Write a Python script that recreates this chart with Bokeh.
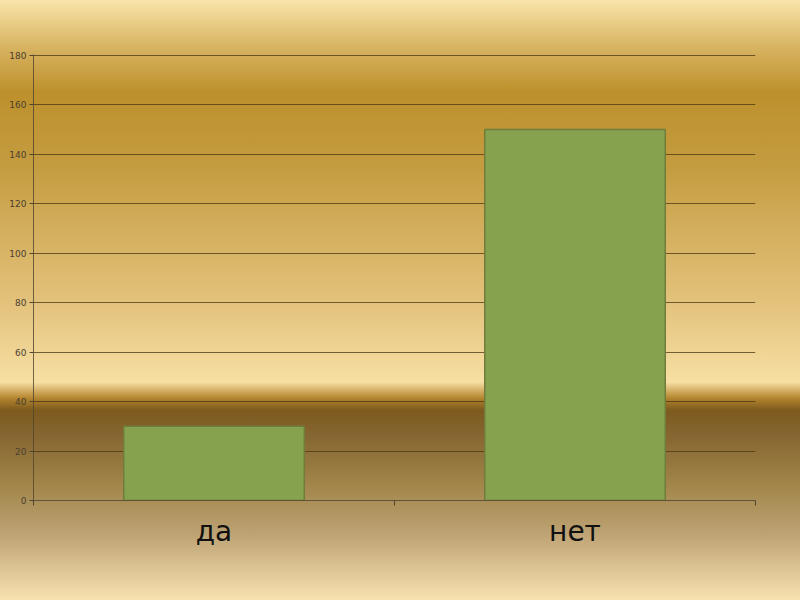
from bokeh.plotting import figure
from bokeh.models import FixedTicker, Range1d, GlobalInlineStyleSheet
from bokeh.embed import file_html
from bokeh.resources import INLINE

categories = ["да", "нет"]
values = [30, 150]
y_ticks = [0, 20, 40, 60, 80, 100, 120, 140, 160, 180]

x_centers = [i + 0.5 for i in range(len(categories))]
x_bounds = list(range(len(categories) + 1))

gradient_css = """
html { height: 100%; background: linear-gradient(to bottom,
  #F9E4A9 0px, #D6B15E 50px, #BD902C 92px, #C49C40 167px, #D4AF5E 233px,
  #E2C17A 300px, #F7DFA3 382px, #B5862F 398px, #7D5A1E 410px, #856530 433px,
  #A08448 483px, #BDA273 533px, #F8E2B0 600px) no-repeat; background-size: 100% 600px; }
body { background: transparent; }
"""

p = figure(width=784, height=584, output_backend="svg", toolbar_location=None,
           x_range=Range1d(0, len(categories)), y_range=Range1d(0, 180.3),
           min_border_left=33, min_border_right=29, min_border_top=54, min_border_bottom=84)
p.stylesheets = [GlobalInlineStyleSheet(css=gradient_css)]
p.background_fill_alpha = 0
p.border_fill_alpha = 0
p.outline_line_color = None

p.vbar(x=x_centers, top=values, width=0.5, bottom=0,
       fill_color="#86A24F", line_color="#6E7E3A", line_width=1.5)

# grid
p.xgrid.visible = False
p.ygrid.ticker = FixedTicker(ticks=y_ticks)
p.ygrid.grid_line_color = "#4A3612"
p.ygrid.grid_line_alpha = 0.75
p.ygrid.grid_line_width = 1.2

# y axis
p.yaxis.ticker = FixedTicker(ticks=y_ticks)
p.yaxis.axis_line_color = "#4E4530"
p.yaxis.axis_line_alpha = 0.8
p.yaxis.major_tick_line_color = "#4E4530"
p.yaxis.major_tick_out = 4
p.yaxis.major_tick_in = 0
p.yaxis.minor_tick_line_color = None
p.yaxis.major_label_standoff = 3
p.yaxis.major_label_text_font = "DejaVu Sans"
p.yaxis.major_label_text_font_size = "9px"
p.yaxis.major_label_text_color = "#4A4030"

# x axis
p.xaxis.ticker = FixedTicker(ticks=x_centers, minor_ticks=x_bounds)
p.xaxis.major_label_overrides = {c: lab for c, lab in zip(x_centers, categories)}
p.xaxis.axis_line_color = "#4E4530"
p.xaxis.axis_line_alpha = 0.8
p.xaxis.major_tick_line_color = None
p.xaxis.minor_tick_line_color = "#4E4530"
p.xaxis.minor_tick_out = 5
p.xaxis.minor_tick_in = 0
p.xaxis.major_label_standoff = 8
p.xaxis.major_label_text_font = "DejaVu Sans"
p.xaxis.major_label_text_font_size = "28px"
p.xaxis.major_label_text_color = "#111111"

open("out.html", "w").write(file_html(p, INLINE))
